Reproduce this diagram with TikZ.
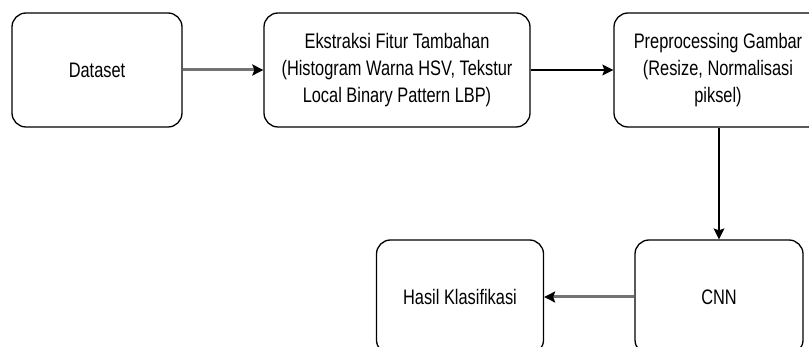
\documentclass[tikz,border=0pt]{standalone}
\usepackage{fontspec}
\setmainfont{Liberation Sans}[FakeStretch=0.78]
\usetikzlibrary{arrows.meta}
\definecolor{arrgray}{gray}{0.45}
\tikzset{
  box/.style={draw=black, line width=1.3pt, rounded corners=14pt, fill=white, align=center,
    font=\fontsize{21pt}{27pt}\selectfont, inner sep=0pt},
  tip/.style={-{Stealth[length=11pt,width=11pt,inset=2pt,black]}},
  thinarrow/.style={draw=black, line width=1.2pt, tip},
  thickarrow/.style={draw=arrgray, line width=3pt, tip},
}
\begin{document}
\begin{tikzpicture}[x=1pt,y=-1pt]
\clip (0,0) rectangle (809,347);
\useasboundingbox (0,0) rectangle (809,347);
\fill[white] (0,0) rectangle (809,347);
\node[box, minimum width=170pt, minimum height=114pt] (ds) at (97,70) {Dataset};
\node[box, minimum width=266pt, minimum height=114pt] (ek) at (397,70) {Ekstraksi Fitur Tambahan\\(Histogram Warna HSV, Tekstur\\Local Binary Pattern LBP)};
\node[box, minimum width=208pt, minimum height=114pt] (pp) at (718,70) {Preprocessing Gambar\\(Resize, Normalisasi\\piksel)};
\node[box, minimum width=168pt, minimum height=114pt] (cnn) at (719,297) {CNN};
\node[box, minimum width=167pt, minimum height=114pt] (hk) at (460,297) {Hasil Klasifikasi};
\draw[thickarrow] (ds.east) -- (ek.west);
\draw[thinarrow] (ek.east) -- (pp.west);
\draw[thinarrow] (pp.south -| cnn.north) -- (cnn.north);
\draw[thickarrow] (cnn.west) -- (hk.east);
\end{tikzpicture}
\end{document}
